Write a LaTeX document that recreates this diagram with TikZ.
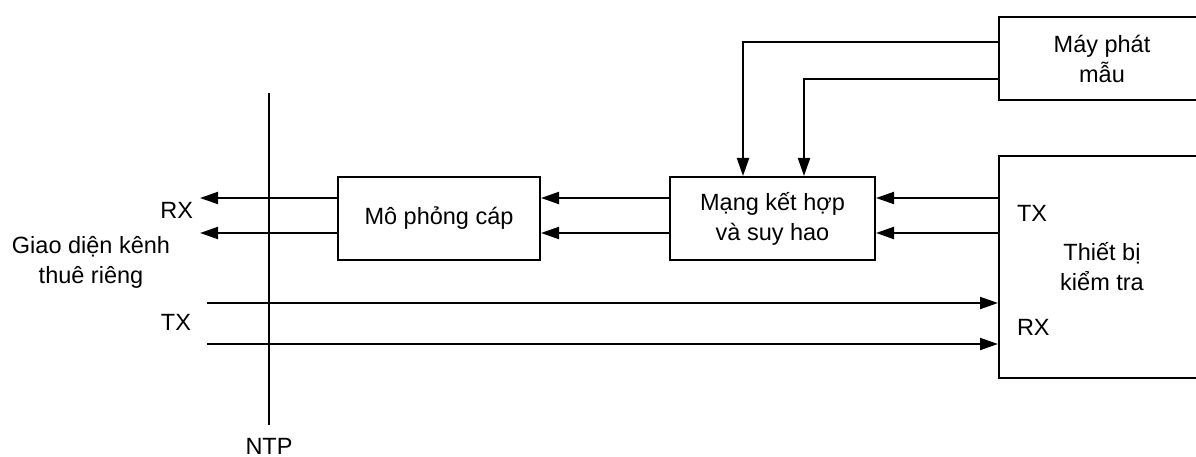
\documentclass[tikz,border=0pt]{standalone}
\usepackage{fontspec}
\setmainfont{Liberation Sans}
\usetikzlibrary{arrows.meta}
\begin{document}
\begin{tikzpicture}[x=1pt,y=-1pt,
  line width=2pt,
  every node/.style={font=\fontsize{23.5}{30}\selectfont, inner sep=0pt, align=center},
  blk/.style={draw, line width=2pt},
  arr/.style={-{Triangle[length=18pt,width=12pt]}}]
\useasboundingbox (0,0) rectangle (1196,457);
\clip (0,0) rectangle (1196,457);

% blocks
\node[blk, minimum width=206pt, minimum height=83pt] (gen) at (1102,58.5) {Máy phát\\mẫu};
\node[blk, minimum width=206pt, minimum height=222pt] (test) at (1102,267) {Thiết bị\\kiểm tra};
\node[blk, minimum width=205pt, minimum height=83pt] (net) at (772.5,218.5) {Mạng kết hợp\\và suy hao};
\node[blk, minimum width=202pt, minimum height=83pt] (cable) at (439,218.5) {Mô phỏng cáp};

% port labels on the test set
\node[anchor=west] (ttx) at (1016,213) {TX};
\node[anchor=west] (trx) at (1016,327) {RX};

% reference point line
\coordinate (ntpT) at (269,93);
\coordinate (ntpB) at (269,425);
\draw (ntpT) -- (ntpB);
\node (ntp) at (269,446) {NTP};

% side labels
\node[anchor=east] (lrx) at (194,210) {RX};
\node[anchor=east] (ltx) at (192,322) {TX};
\node (lif) at (91,262.5) {Giao diện kênh\\thuê riêng};

% row levels
\coordinate (r1) at (0,198);
\coordinate (r2) at (0,233);
\coordinate (t1) at (0,303);
\coordinate (t2) at (0,344);
\coordinate (e1) at (200,198);
\coordinate (e2) at (200,233);
\coordinate (s1) at (207,303);
\coordinate (s2) at (207,344);

% receive path: test set -> network -> cable simulator -> interface
\draw[arr] (test.west |- r1) -- (net.east |- r1);
\draw[arr] (test.west |- r2) -- (net.east |- r2);
\draw[arr] (net.west |- r1) -- (cable.east |- r1);
\draw[arr] (net.west |- r2) -- (cable.east |- r2);
\draw[arr] (cable.west |- r1) -- (e1);
\draw[arr] (cable.west |- r2) -- (e2);

% transmit path: interface -> test set
\draw[arr] (s1) -- (test.west |- t1);
\draw[arr] (s2) -- (test.west |- t2);

% pattern generator feeds
\coordinate (g1) at (743,41.7);
\coordinate (g2) at (804,79.3);
\draw[arr] (gen.west |- g1) -- (g1) -- (net.north -| g1);
\draw[arr] (gen.west |- g2) -- (g2) -- (net.north -| g2);
\end{tikzpicture}
\end{document}
